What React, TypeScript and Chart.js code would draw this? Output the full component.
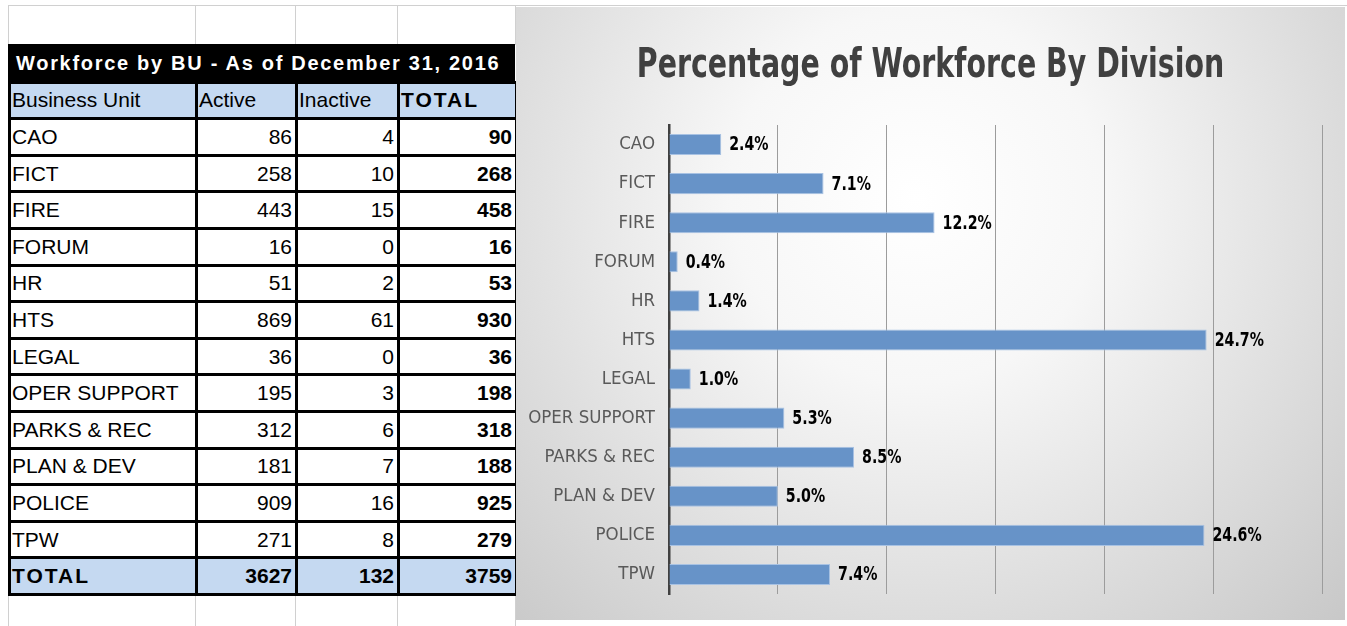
import React, { useEffect, useRef } from "react";
import { Chart, registerables } from "chart.js";

Chart.register(...registerables);

const tableTitle = "Workforce by BU - As of December 31, 2016";
const headers = ["Business Unit", "Active", "Inactive", "TOTAL"];
const units = ["CAO", "FICT", "FIRE", "FORUM", "HR", "HTS", "LEGAL", "OPER SUPPORT", "PARKS & REC", "PLAN & DEV", "POLICE", "TPW"];
const activeCounts = [86, 258, 443, 16, 51, 869, 36, 195, 312, 181, 909, 271];
const inactiveCounts = [4, 10, 15, 0, 2, 61, 0, 3, 6, 7, 16, 8];
const totalCounts = [90, 268, 458, 16, 53, 930, 36, 198, 318, 188, 925, 279];
const grandTotals = ["TOTAL", 3627, 132, 3759];

const chartTitle = "Percentage of Workforce By Division";
const percentValues = [2.4, 7.1, 12.2, 0.4, 1.4, 24.7, 1.0, 5.3, 8.5, 5.0, 24.6, 7.4];

const NARROW = "'Liberation Sans Narrow', 'Arial Narrow', 'DejaVu Sans Condensed', 'Liberation Sans', sans-serif";
const SANS = "'Liberation Sans', Arial, sans-serif";

const bgPlugin = {
  id: "panelBg",
  beforeDraw(chart: any) {
    const { ctx, width, height } = chart;
    ctx.save();
    const g = ctx.createRadialGradient(400, 190, 0, 400, 190, 620);
    g.addColorStop(0, "#ffffff");
    g.addColorStop(0.3, "#f7f7f7");
    g.addColorStop(1, "#c6c6c6");
    ctx.fillStyle = g;
    ctx.fillRect(0, 0, width, height);
    // title, horizontally condensed like the original
    ctx.font = "bold 40px " + NARROW;
    ctx.fillStyle = "#404040";
    ctx.textAlign = "center";
    ctx.textBaseline = "alphabetic";
    ctx.translate(width / 2, 70);
    ctx.scale(0.79, 1);
    ctx.fillText(chartTitle, 0, 0);
    ctx.restore();
  },
};

const labelPlugin = {
  id: "barLabels",
  afterDatasetsDraw(chart: any) {
    const { ctx } = chart;
    const meta = chart.getDatasetMeta(0);
    meta.data.forEach((bar: any, i: number) => {
      ctx.save();
      ctx.font = "bold 19px " + NARROW;
      ctx.fillStyle = "#000000";
      ctx.textBaseline = "middle";
      ctx.textAlign = "left";
      ctx.translate(bar.x + 8, bar.y + 1);
      ctx.scale(0.83, 1);
      ctx.fillText(percentValues[i].toFixed(1) + "%", 0, 0);
      ctx.restore();
    });
  },
};

function WorkforceChart() {
  const ref = useRef<HTMLCanvasElement | null>(null);
  useEffect(() => {
    if (!ref.current) return;
    const chart = new Chart(ref.current, {
      type: "bar",
      data: {
        labels: units,
        datasets: [
          {
            data: percentValues,
            backgroundColor: "#6793c8",
            borderColor: "#a8c2e3",
            borderWidth: 1,
            barPercentage: 0.54,
            categoryPercentage: 1,
          },
        ],
      },
      options: {
        indexAxis: "y",
        animation: false,
        responsive: true,
        maintainAspectRatio: false,
        layout: { padding: { left: 0, right: 23, top: 118, bottom: 26 } },
        scales: {
          x: {
            min: 0,
            max: 30,
            ticks: { display: false, stepSize: 5 },
            grid: { color: "#9c9c9c", lineWidth: 1, drawTicks: false },
            border: { display: false },
          },
          y: {
            grid: { display: true, color: "rgba(0,0,0,0)", drawTicks: false },
            border: { display: true, color: "#404040", width: 2.5 },
            ticks: {
              color: "#595959",
              font: { family: NARROW, size: 18.5 },
              padding: 14,
            },
            afterFit(scale: any) {
              scale.width = 153;
            },
          },
        },
        plugins: {
          legend: { display: false },
          tooltip: { enabled: false },
          title: { display: false, text: chartTitle },
        },
      },
      plugins: [bgPlugin, labelPlugin],
    });
    return () => chart.destroy();
  }, []);
  return (
    <div style={{ position: "absolute", left: 516, top: 7, width: 829, height: 613 }}>
      <canvas ref={ref} />
    </div>
  );
}

const colLeft = [8, 195, 295, 397];
const colWidths = [187, 100, 102, 118];
const ROW_H = 36.6;
const TABLE_TOP = 44;

function Cell(props: {
  left: number;
  top: number;
  width: number;
  height: number;
  bg?: string;
  color?: string;
  align?: "left" | "right";
  bold?: boolean;
  spacing?: number;
  size?: number;
  children?: React.ReactNode;
}) {
  return (
    <div
      style={{
        position: "absolute",
        left: props.left,
        top: props.top,
        width: props.width,
        height: props.height,
        boxSizing: "border-box",
        border: "3px solid #000",
        background: props.bg || "#fff",
        color: props.color || "#000",
        fontFamily: SANS,
        fontSize: props.size || 21,
        fontWeight: props.bold ? "bold" : "normal",
        letterSpacing: props.spacing || 0,
        display: "flex",
        alignItems: "center",
        justifyContent: props.align === "right" ? "flex-end" : "flex-start",
        padding: "0 3px 0 1px",
        whiteSpace: "nowrap",
        overflow: "hidden",
      }}
    >
      {props.children}
    </div>
  );
}

function WorkforceTable() {
  const cells: React.ReactNode[] = [];
  const tableRight = colLeft[3] + colWidths[3];
  cells.push(
    <Cell key="title" left={colLeft[0]} top={TABLE_TOP} width={tableRight - colLeft[0]} height={ROW_H + 1.5} bg="#000" color="#fff" bold spacing={1.7} size={20}>
      <span style={{ paddingLeft: 4 }}>{tableTitle}</span>
    </Cell>
  );
  const rowTop = (r: number) => TABLE_TOP + ROW_H * (r + 1);
  headers.forEach((h, c) => {
    cells.push(
      <Cell key={"h" + c} left={colLeft[c]} top={rowTop(0)} width={colWidths[c] + 3} height={ROW_H + 3} bg="#c5d9f1" bold={c === 3} spacing={c === 3 ? 2 : 0}>
        {h}
      </Cell>
    );
  });
  units.forEach((u, r) => {
    const vals = [u, activeCounts[r], inactiveCounts[r], totalCounts[r]];
    vals.forEach((v, c) => {
      cells.push(
        <Cell key={"r" + r + "c" + c} left={colLeft[c]} top={rowTop(r + 1)} width={colWidths[c] + 3} height={ROW_H + 3} align={c === 0 ? "left" : "right"} bold={c === 3}>
          {v}
        </Cell>
      );
    });
  });
  grandTotals.forEach((v, c) => {
    cells.push(
      <Cell key={"t" + c} left={colLeft[c]} top={rowTop(units.length + 1)} width={colWidths[c] + 3} height={ROW_H + 3} bg="#c5d9f1" align={c === 0 ? "left" : "right"} bold spacing={c === 0 ? 2 : 0}>
        {v}
      </Cell>
    );
  });
  return <>{cells}</>;
}

function SheetGrid() {
  const lines: React.ReactNode[] = [];
  const gray = "#d0d0d0";
  lines.push(<div key="top" style={{ position: "absolute", left: 8, top: 5, width: 1339, height: 1, background: gray }} />);
  [8, 195, 295, 397, 515].forEach((x, i) => {
    lines.push(<div key={"t" + i} style={{ position: "absolute", left: x, top: 5, width: 1, height: 40, background: gray }} />);
    lines.push(<div key={"b" + i} style={{ position: "absolute", left: x, top: 594, width: 1, height: 32, background: gray }} />);
  });
  return <>{lines}</>;
}

export default function App() {
  return (
    <div style={{ position: "absolute", left: 0, top: 0, width: 1347, height: 626, background: "#fff", overflow: "hidden" }}>
      <SheetGrid />
      <WorkforceTable />
      <WorkforceChart />
    </div>
  );
}
